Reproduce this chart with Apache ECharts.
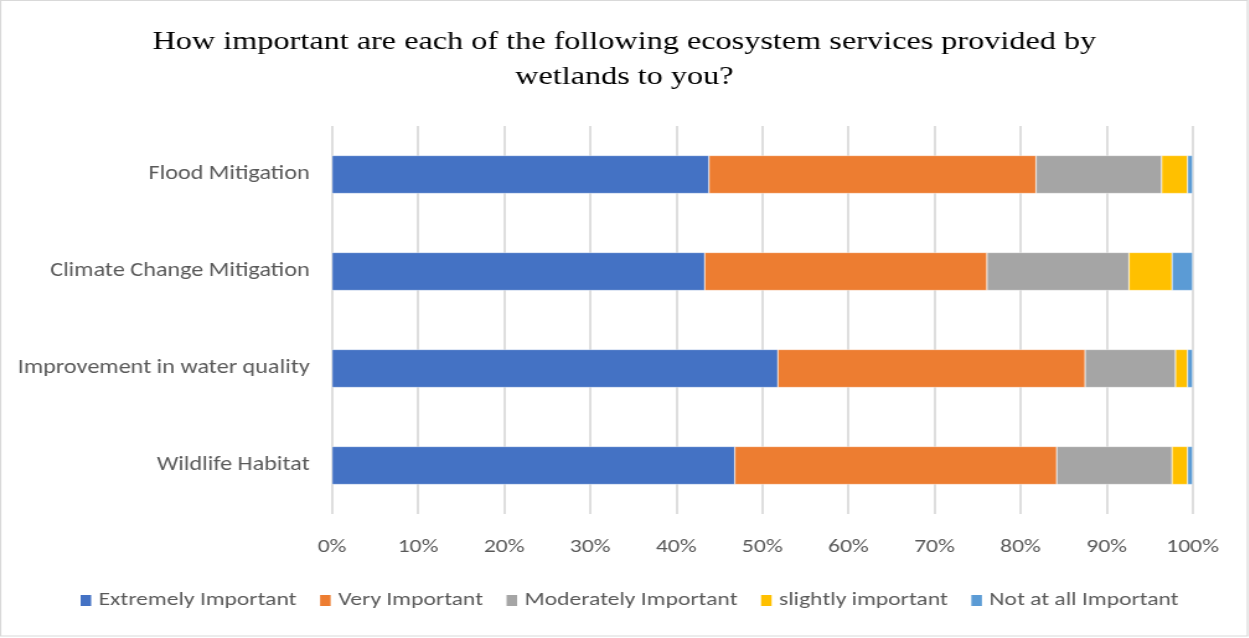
<!DOCTYPE html>
<html>
<head>
<meta charset="utf-8">
<script src="https://cdn.jsdelivr.net/npm/echarts@6/dist/echarts.min.js"></script>
<style>
  html, body { margin: 0; padding: 0; background: #fff; overflow: hidden; }
  #frame { position: relative; width: 1249px; height: 638px; overflow: hidden; }
  /* the source picture is stretched sideways, so the chart is drawn narrower and widened */
  #chart { position: absolute; left: 0; top: 0; width: 1007px; height: 638px; transform: scaleX(1.24); transform-origin: 0 0; }
</style>
</head>
<body>
<div id="frame"><div id="chart"></div></div>
<script>
const categories = ['Flood Mitigation', 'Climate Change Mitigation', 'Improvement in water quality', 'Wildlife Habitat'];
const extremely = [43.8, 43.3, 51.8, 46.8];
const very = [38.0, 32.8, 35.7, 37.4];
const moderately = [14.6, 16.5, 10.5, 13.4];
const slightly = [3.0, 5.0, 1.4, 1.8];
const notAtAll = [0.6, 2.4, 0.6, 0.6];

const seriesDefs = [
  { name: 'Extremely Important', data: extremely, color: '#4472C4' },
  { name: 'Very Important', data: very, color: '#ED7D31' },
  { name: 'Moderately Important', data: moderately, color: '#A5A5A5' },
  { name: 'slightly important', data: slightly, color: '#FFC000' },
  { name: 'Not at all Important', data: notAtAll, color: '#5B9BD5' }
];

const sx = 1.24;
const labelFont = 'Calibri, Carlito, "Open Sans", sans-serif';
const chart = echarts.init(document.getElementById('chart'));

chart.setOption({
  animation: false,
  // outer frame of the chart area
  graphic: [{
    type: 'rect',
    silent: true,
    shape: { x: 0.5, y: 0.5, width: 1005.5, height: 635.5 },
    style: { fill: 'none', stroke: '#d9d9d9', lineWidth: 1.2 }
  }],
  title: {
    text: 'How important are each of the following ecosystem services provided by\nwetlands to you?',
    left: 'center',
    top: 20,
    textStyle: {
      fontFamily: '"Liberation Serif", "Times New Roman", serif',
      fontSize: 26,
      fontWeight: 'normal',
      color: '#000',
      lineHeight: 35
    }
  },
  legend: {
    bottom: 23,
    left: 58,
    itemWidth: 10.5,
    itemHeight: 13,
    itemGap: 17,
    icon: 'rect',
    textStyle: { fontFamily: labelFont, fontSize: 19, color: '#595959' }
  },
  grid: { left: 332 / sx, right: 56 / sx, top: 126, bottom: 124, containLabel: false },
  xAxis: {
    type: 'value',
    min: 0,
    max: 100,
    interval: 10,
    axisLabel: {
      formatter: '{value}%',
      fontFamily: labelFont,
      fontSize: 19,
      color: '#595959',
      margin: 24
    },
    axisLine: { show: false },
    axisTick: { show: false },
    splitLine: { lineStyle: { color: '#d9d9d9', width: 1.7 } }
  },
  yAxis: {
    type: 'category',
    data: categories,
    inverse: true,
    axisLabel: {
      fontFamily: labelFont,
      fontSize: 19.5,
      color: '#595959',
      margin: 18
    },
    axisLine: { show: false },
    axisTick: { show: false }
  },
  series: seriesDefs.map(s => ({
    name: s.name,
    type: 'bar',
    stack: 'total',
    data: s.data,
    barWidth: 38,
    itemStyle: { color: s.color, borderColor: '#fff', borderWidth: 0.4 }
  }))
});
</script>
</body>
</html>
